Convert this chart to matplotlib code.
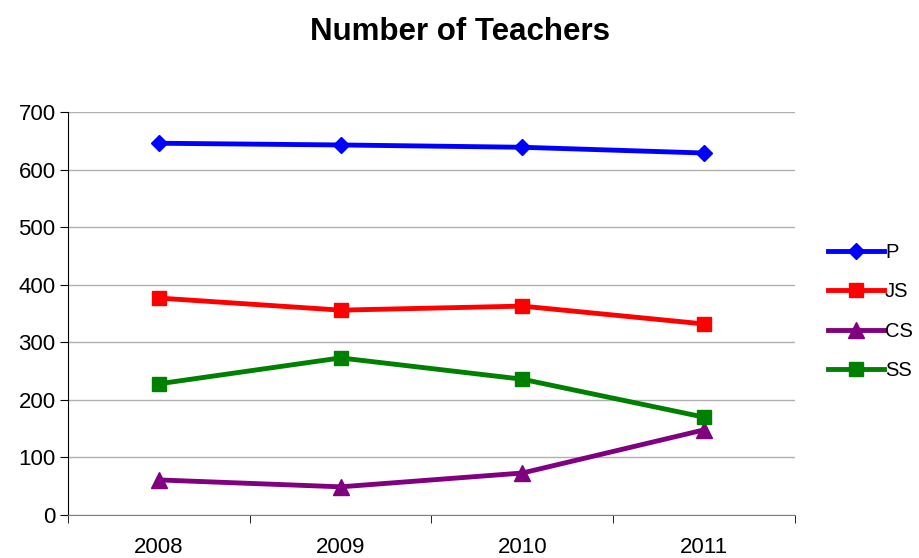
import numpy as np
import matplotlib.pyplot as plt

plt.rcParams['font.family'] = ['Liberation Sans', 'DejaVu Sans']

years = ['2008', '2009', '2010', '2011']
p_vals = [646, 643, 639, 629]
js_vals = [377, 356, 363, 332]
cs_vals = [61, 49, 73, 148]
ss_vals = [228, 273, 236, 170]

fig = plt.figure(figsize=(9.19, 5.58), dpi=100)
ax = fig.add_axes([0.074, 0.077, 0.791, 0.722])

x = np.arange(len(years))
ax.plot(x, p_vals, color='#0000ff', lw=3.5, marker='D', ms=8, label='P')
ax.plot(x, js_vals, color='#ff0000', lw=3.5, marker='s', ms=10, label='JS')
ax.plot(x, cs_vals, color='#800080', lw=3.5, marker='^', ms=11, label='CS')
ax.plot(x, ss_vals, color='#008000', lw=3.5, marker='s', ms=10, label='SS')

ax.set_xlim(-0.5, 3.5)
ax.set_ylim(0, 700)
ax.set_yticks(range(0, 701, 100))
ax.yaxis.grid(True, color='#b0b0b0', lw=1)
ax.set_axisbelow(True)

ax.set_xticks(x)
ax.set_xticklabels(years)
ax.set_xticks(np.arange(-0.5, 4, 1), minor=True)
ax.tick_params(axis='x', which='major', length=0, pad=16, labelsize=16)
ax.tick_params(axis='x', which='minor', length=6, color='black')
ax.tick_params(axis='y', length=6, labelsize=16, pad=3)

for s in ['top', 'right']:
    ax.spines[s].set_visible(False)
ax.spines['bottom'].set_color('#808080')
ax.spines['left'].set_color('black')

fig.suptitle('Number of Teachers', y=0.97, fontsize=22.5, fontweight='bold')

ax.legend(loc='center left', bbox_to_anchor=(1.045, 0.505), frameon=False,
          fontsize=14.5, handlelength=2.8, handletextpad=0.05, labelspacing=1.02,
          borderaxespad=0, borderpad=0)

fig.savefig('out.png', dpi=100)
